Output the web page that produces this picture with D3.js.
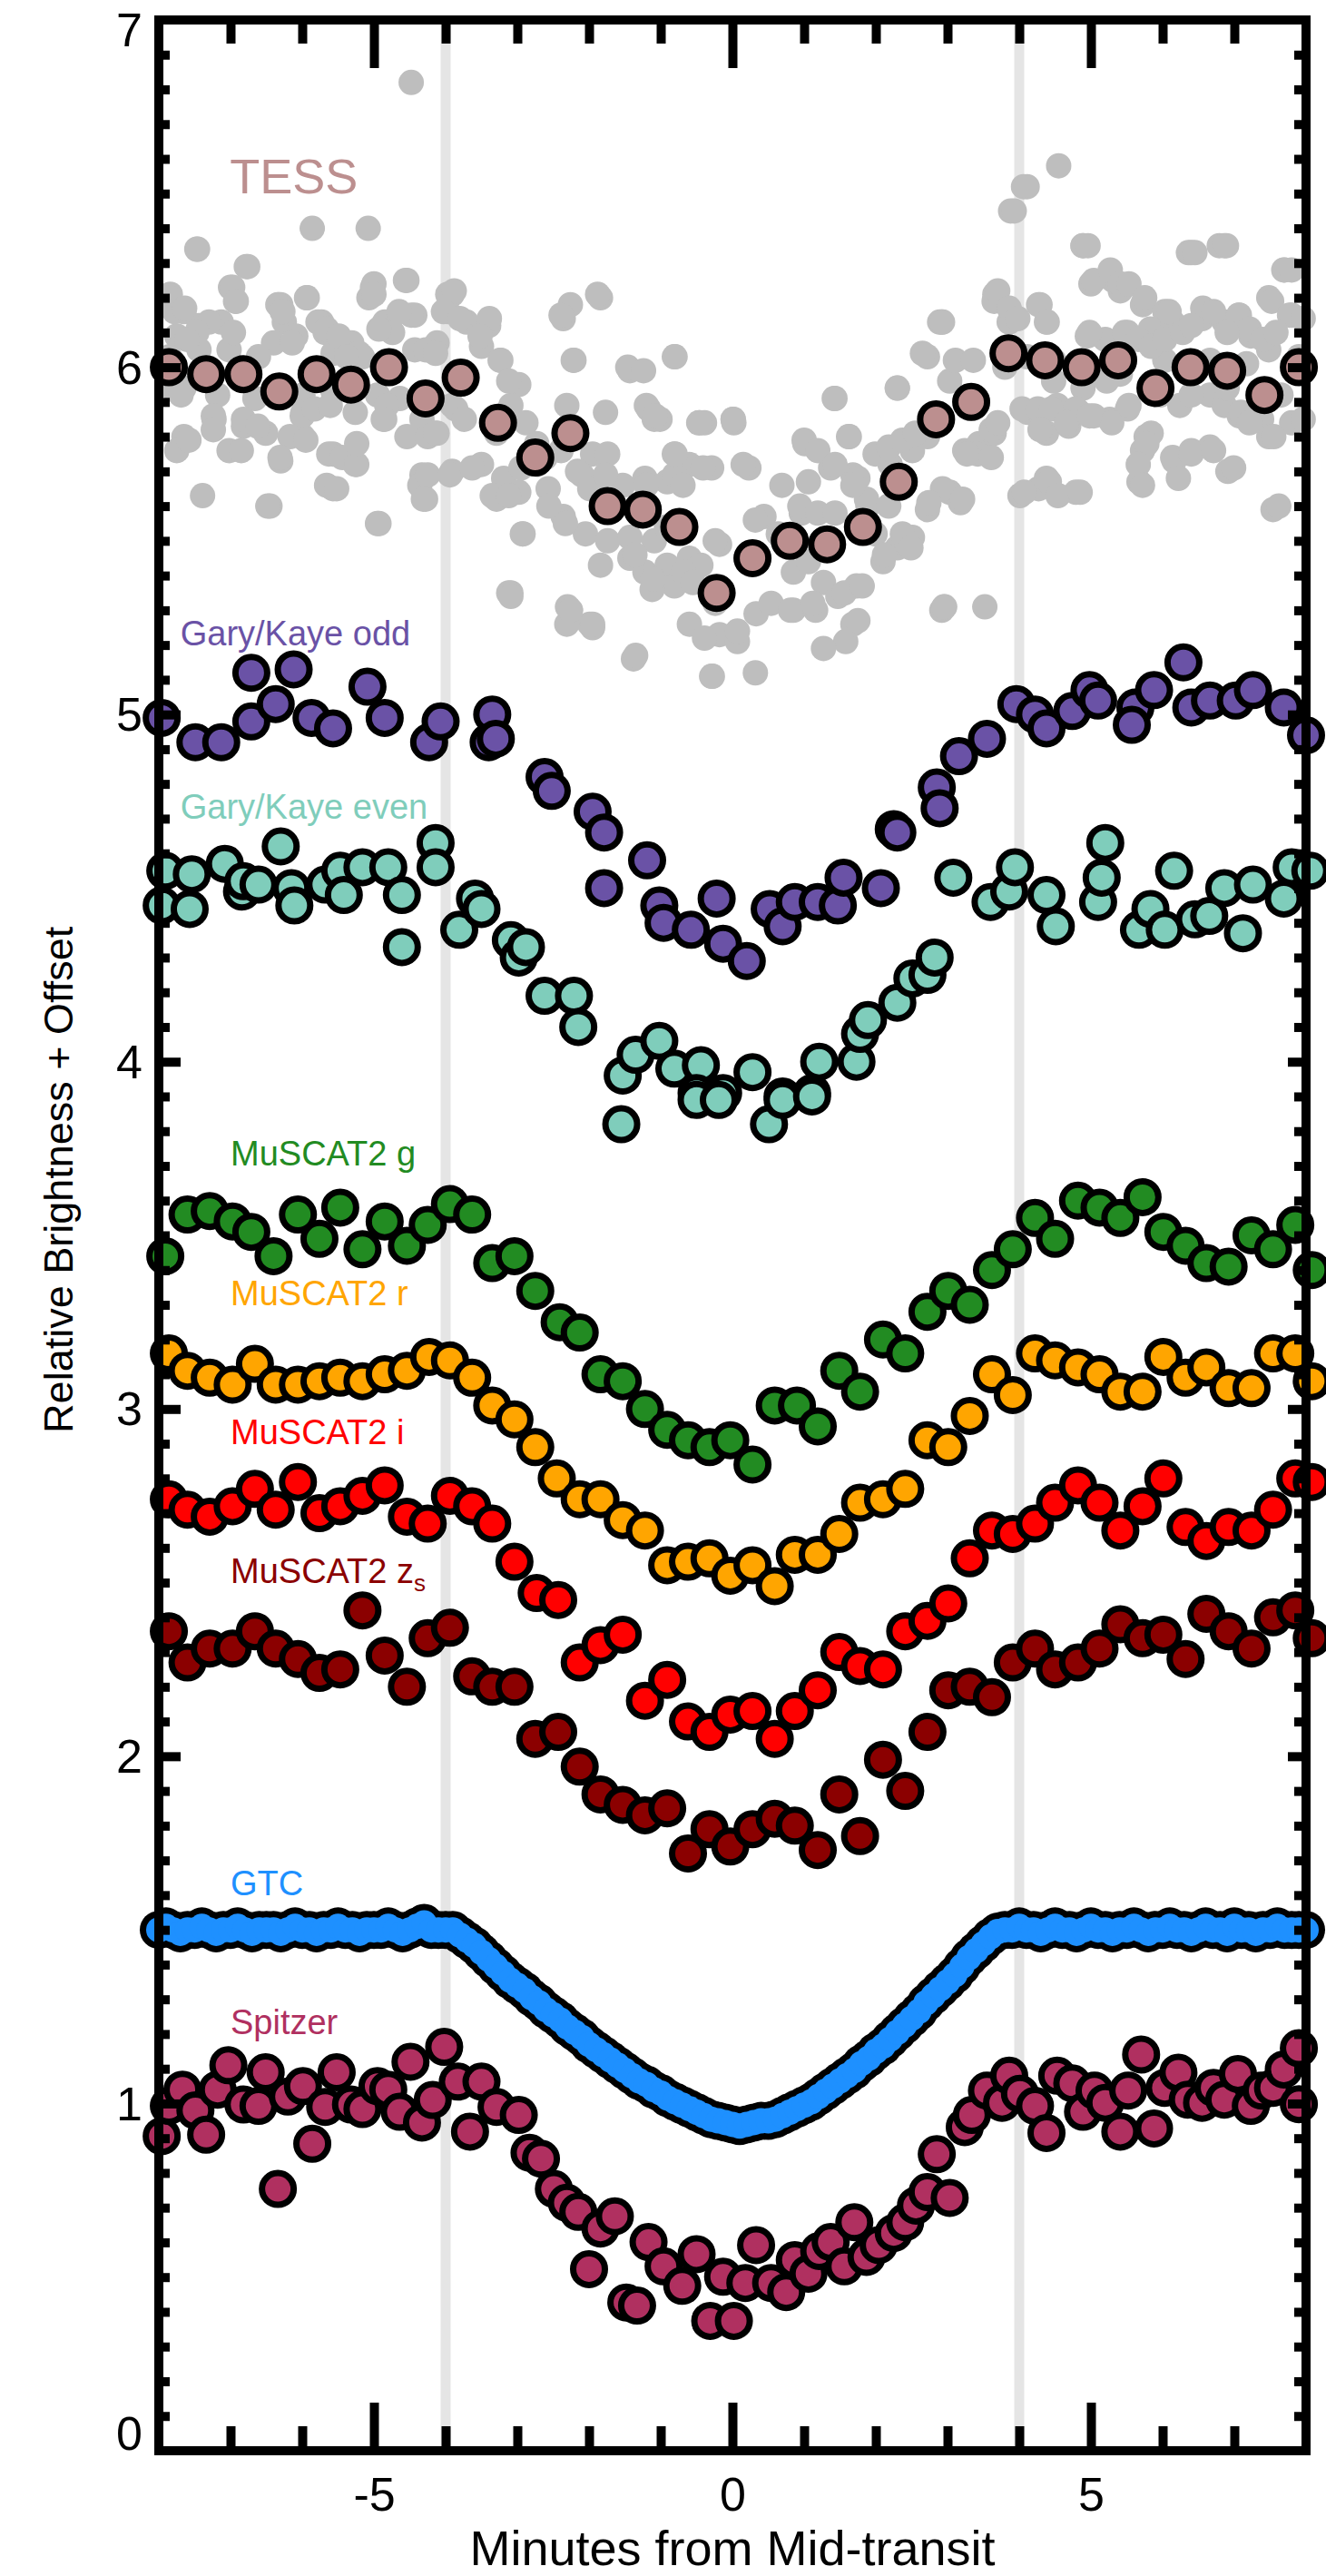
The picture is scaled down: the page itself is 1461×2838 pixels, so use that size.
<!DOCTYPE html>
<html>
<head>
<meta charset="utf-8">
<script src="https://cdn.jsdelivr.net/npm/d3@7"></script>
<style>
  body { margin: 0; background: #ffffff; }
  svg text { font-family: "Liberation Sans", Arial, Helvetica, sans-serif; }
</style>
</head>
<body>
<svg id="chart" width="1461" height="2838"></svg>
<script>
// ---- Light curves: [minutes from mid-transit, relative brightness + offset] ----

// TESS unbinned photometry (grey cloud)
const tessRaw = [
  [-4.48,6.82],[-5.86,6.40],[-5.08,6.40],[-7.47,6.34],[-6.78,6.29],[-7.00,6.23],[-6.93,6.19],[-7.84,6.21],
  [-5.93,6.20],[-5.02,6.23],[-5.07,6.20],[-4.56,6.25],[-6.33,6.18],[-6.27,6.16],
  [4.06,6.52],[3.88,6.45],[4.55,6.58],[4.89,6.35],[6.36,6.33],[6.79,6.35],[7.70,6.28],[2.89,6.13],[3.66,6.21],
  [-7.46,6.34],[-6.76,6.29],[-6.97,6.23],[-7.85,6.20],[-7.65,6.16],[-6.92,6.19],[-6.30,6.18],[-5.94,6.20],
  [-5.00,6.24],[-4.54,6.25],[-5.00,6.21],[-6.25,6.13],[-5.73,6.13],[-7.44,6.12],[-7.13,6.13],[-7.75,6.09],
  [-6.40,6.07],[-6.09,6.09],[-5.68,6.10],[-5.31,6.07],[-4.85,6.13],[-4.43,6.15],[-4.74,6.10],[-7.85,6.03],
  [-7.44,6.05],[-7.02,6.05],[-6.61,6.03],[-5.57,6.04],[-5.16,6.03],[-4.43,6.05],[-4.12,6.07],[-3.91,6.21],
  [-3.97,6.16],[-7.65,5.94],[-7.18,5.92],[-6.66,5.91],[-5.99,5.92],[-5.57,5.93],[-4.95,5.92],[-4.64,5.91],
  [-5.99,5.87],[-7.23,5.85],[-6.82,5.83],[-6.51,5.81],[-5.26,5.87],[-4.85,5.85],[-4.33,5.85],[-3.91,5.89],
  [-7.65,5.80],[-7.02,5.76],[-6.30,5.73],[-5.57,5.75],[-5.26,5.72],[-7.75,5.76],[-5.99,5.80],[-4.54,5.80],
  [-4.12,5.81],[-4.33,5.69],[-3.91,5.70],[-7.39,5.63],[-6.45,5.60],[-5.57,5.65],[-4.95,5.55],[-4.28,5.62],
  [-3.71,6.13],[-3.40,6.12],[-3.50,6.06],[-3.24,6.02],[-2.98,5.95],[-3.09,5.89],[-2.88,5.84],[-3.29,5.81],
  [-3.50,5.72],[-3.19,5.68],[-2.98,5.64],[-3.29,5.62],[-2.93,5.52],[-3.09,5.35],[-2.72,5.72],[-2.57,5.65],
  [-2.36,5.57],[-2.31,5.89],[-2.26,6.18],[-2.36,6.14],[-1.84,6.20],[-2.21,6.02],[-1.43,5.99],[-0.81,6.03],
  [-1.17,5.88],[-1.01,5.85],[-0.39,5.84],[0.02,5.84],[-0.81,5.75],[-0.60,5.72],[-0.29,5.71],[0.23,5.71],
  [-1.95,5.75],[-1.74,5.75],[-2.10,5.69],[-1.95,5.65],[-1.53,5.66],[-1.22,5.68],[-0.91,5.67],[-2.05,5.52],
  [-1.74,5.50],[-1.43,5.45],[-1.84,5.43],[-1.22,5.41],[-0.91,5.43],[-0.60,5.45],[-0.44,5.43],[-0.81,5.37],
  [-1.12,5.36],[-0.18,5.49],[-2.26,5.30],[-1.95,5.25],[-1.38,5.16],[-0.29,5.11],[-0.60,5.26],[-0.18,5.23],
  [0.07,5.21],[-0.39,5.22],[0.33,5.29],[0.54,5.32],[0.44,5.57],[0.64,5.52],[0.96,5.58],[0.85,5.41],
  [1.06,5.44],[0.85,5.30],[1.16,5.30],[1.27,5.38],[1.47,5.34],[1.73,5.37],[1.58,5.21],[1.27,5.19],
  [1.68,5.26],[1.01,5.78],[1.63,5.80],[1.42,5.91],[1.06,5.67],[1.37,5.71],[1.68,5.69],[1.89,5.60],
  [1.99,5.52],[2.10,5.44],[2.30,5.48],[2.51,5.51],[2.20,5.72],[2.51,5.76],[2.30,5.94],[2.72,5.80],
  [2.92,6.13],[2.92,5.30],[2.72,5.59],[3.03,5.64],[3.18,5.61],[2.72,6.03],[3.03,5.96],[3.24,5.76],
  [3.44,5.78],[3.65,5.81],[3.65,6.19],[3.86,6.13],[4.01,5.63],[4.27,5.65],[4.38,5.68],[4.79,5.64],
  [4.12,5.87],[4.53,5.89],[4.84,5.87],[4.38,5.81],[4.69,5.83],[4.27,6.18],[4.38,6.13],[4.89,6.35],
  [5.00,6.24],[5.31,6.25],[5.41,6.22],[5.72,6.18],[6.03,6.16],[4.95,6.09],[5.20,6.08],[5.51,6.10],
  [5.83,6.11],[6.14,6.13],[6.40,6.33],[6.86,6.35],[6.55,6.14],[6.86,6.13],[7.07,6.15],[7.23,6.09],
  [7.69,6.28],[7.48,6.20],[7.80,6.15],[5.26,5.85],[5.51,5.88],[5.77,5.80],[5.72,5.76],[5.67,5.67],
  [6.14,5.74],[6.40,5.76],[6.66,5.77],[6.91,5.70],[6.03,6.02],[6.66,6.02],[7.17,6.01],[7.48,6.05],
  [7.90,6.03],[7.07,5.86],[7.38,5.85],[7.80,5.84],[7.48,5.80],[7.54,5.59],[4.48,6.02],[4.89,5.94],
  [6.66,5.92],[6.86,5.89],[6.24,5.89],[5.41,5.98],
  [-7.78,6.16],[-7.64,6.17],[-6.34,6.18],[-6.28,6.16],[-4.48,6.15],[-4.65,6.16],[-3.97,6.21],[-3.88,6.22],
  [-4.03,6.16],[-3.80,6.14],[-3.39,6.14],[-3.52,6.09],[-7.30,6.13],[-6.96,6.10],[-7.47,6.10],[-7.61,6.08],
  [-6.14,6.07],[-5.78,6.13],[-5.66,6.11],[-5.49,6.09],[-5.21,6.04],[-5.38,6.03],[-4.93,6.11],[-4.28,6.05],
  [-4.14,6.04],[-3.23,6.02],[-3.12,5.96],[-2.39,6.15],[-1.88,6.21],[-2.22,6.02],[-1.46,6.00],[-1.77,5.87],
  [-1.20,5.89],[-1.09,5.85],[-0.47,5.84],[0.01,5.85],[-7.81,5.94],[-7.69,5.92],[-7.24,5.86],[-7.24,5.82],
  [-6.82,5.85],[-6.62,5.83],[-6.00,5.86],[-5.83,5.88],[-5.61,5.89],[-6.17,5.80],[-5.95,5.79],[-4.82,5.89],
  [-4.87,5.85],[-4.25,5.80],[-4.14,5.81],[-3.86,5.88],[-3.74,5.85],[-7.58,5.79],[-6.85,5.76],[-6.31,5.74],
  [-5.63,5.75],[-5.44,5.74],[-5.24,5.72],[-5.24,5.78],[-4.36,5.66],[-4.25,5.69],[-3.94,5.69],[-6.48,5.60],
  [-5.66,5.66],[-5.52,5.65],[-4.93,5.55],[-4.31,5.62],[-3.63,5.71],[-3.35,5.63],[-3.12,5.63],[-2.95,5.71],
  [-2.73,5.78],[-2.61,5.74],[-2.39,5.76],[-2.16,5.70],[-1.99,5.65],[-1.77,5.69],[-2.92,5.52],[-2.56,5.60],
  [-2.33,5.55],[-1.43,5.51],[-1.09,5.50],[-0.92,5.54],[-1.20,5.66],[-0.81,5.69],[-0.69,5.66],[-0.41,5.71],
  [0.15,5.72],[-3.12,5.35],[-2.30,5.31],[-1.99,5.26],
  [4.11,6.52],[3.93,6.45],[4.96,6.35],[6.45,6.33],[6.89,6.35],[7.80,6.28],[5.04,6.25],[5.27,6.28],
  [5.41,6.24],[5.53,6.24],[5.75,6.20],[6.09,6.16],[6.56,6.17],[6.71,6.16],[7.06,6.15],[7.21,6.11],
  [7.52,6.19],[7.77,6.15],[7.96,6.14],[3.70,6.22],[3.86,6.17],[3.98,6.14],[4.29,6.18],[4.39,6.13],
  [4.98,6.10],[5.47,6.10],[5.66,6.08],[5.84,6.06],[6.03,6.08],[6.28,6.10],[6.40,6.12],[6.90,6.10],
  [7.40,6.08],[7.58,6.10],[2.65,6.04],[2.93,6.13],[3.11,6.02],[3.36,6.02],[2.30,5.94],[1.43,5.91],
  [3.80,6.00],[4.11,6.03],[4.48,5.96],[4.85,6.00],[5.22,5.96],[5.97,5.92],[6.40,5.92],[6.90,5.94],
  [7.34,5.90],[7.65,5.92],[4.04,5.88],[4.26,5.88],[4.45,5.88],[4.79,5.88],[5.04,5.86],[5.29,5.84],
  [5.53,5.89],[7.09,5.87],[7.21,5.84],[7.96,5.85],[4.29,5.82],[4.66,5.84],[4.98,5.86],[5.84,5.81],
  [5.78,5.78],[5.66,5.72],[5.72,5.66],[6.16,5.73],[6.22,5.68],[6.40,5.75],[6.71,5.76],[6.99,5.71],
  [7.55,5.80],[7.62,5.60],[4.07,5.64],[4.42,5.67],[4.54,5.63],[4.85,5.64],[3.61,5.82],[3.70,5.84],
  [3.42,5.75],[3.27,5.75],[3.61,5.74],[2.93,5.65],[3.21,5.62],[2.74,5.61],[1.99,5.75],[2.18,5.77],
  [2.37,5.79],[2.55,5.81],[1.00,5.79],[1.19,5.76],[1.43,5.72],[1.62,5.80],[1.75,5.68],[1.87,5.62],
  [2.18,5.60],[-0.80,6.03],[-1.24,5.99],[-1.08,5.86],[-0.80,5.75],[-0.46,5.84],[0.01,5.85],[-0.24,5.50],
  [0.19,5.45],[0.32,5.56],[0.69,5.66],[0.94,5.60],[1.19,5.58],[1.43,5.58],[1.68,5.66],[2.37,5.52],
  [2.49,5.48],[2.12,5.46],[-0.68,5.41],[-0.55,5.38],[-0.24,5.32],[0.07,5.24],[0.81,5.30],[1.12,5.32],
  [1.56,5.35],[1.75,5.27],[1.81,5.37],[2.96,5.31],[-1.11,5.39],[-1.36,5.46],
  [0.32,5.12],[3.52,5.31],[-2.31,5.26],[-3.09,5.34],[-2.26,5.30],[-1.95,5.26],[-1.35,5.17],[-0.28,5.11],[2.95,5.31]
];

// TESS binned
const tessBinned = [
  [-7.86,6.00],[-7.34,5.98],[-6.82,5.98],[-6.32,5.93],[-5.80,5.98],[-5.32,5.95],[-4.79,6.00],[-4.28,5.91],
  [-3.79,5.97],[-3.27,5.84],[-2.75,5.74],[-2.26,5.81],[-1.74,5.60],[-1.25,5.59],[-0.74,5.54],[-0.22,5.35],
  [0.28,5.45],[0.80,5.50],[1.32,5.49],[1.82,5.54],[2.32,5.67],[2.84,5.85],[3.33,5.90],[3.85,6.04],
  [4.36,6.02],[4.87,6.00],[5.38,6.02],[5.90,5.94],[6.39,6.00],[6.90,5.99],[7.42,5.92],[7.90,6.00]
];

// Gary/Kaye odd transits
const garyOdd = [
  [-7.96,4.99],[-7.49,4.92],[-7.13,4.92],[-6.71,4.98],[-6.71,5.12],[-6.37,5.03],[-6.12,5.13],[-5.87,4.99],
  [-5.57,4.96],[-5.09,5.08],[-4.85,4.99],[-4.23,4.92],[-4.07,4.98],[-3.35,5.00],[-3.40,4.92],[-3.30,4.93],
  [-2.62,4.82],[-2.52,4.78],[-1.95,4.72],[-1.79,4.66],[-1.19,4.58],[-1.79,4.50],[-1.02,4.45],[-0.96,4.40],
  [-0.58,4.38],[-0.22,4.47],[-0.13,4.34],[0.20,4.29],[0.52,4.44],[0.70,4.39],[0.87,4.46],[1.19,4.46],
  [1.47,4.45],[1.55,4.53],[2.07,4.50],[2.25,4.67],[2.30,4.66],[2.85,4.79],[2.89,4.73],[3.16,4.88],
  [3.55,4.93],[3.96,5.03],[4.22,5.00],[4.38,4.96],[4.74,5.01],[4.98,5.07],[5.10,5.04],[5.62,5.02],
  [5.57,4.97],[5.88,5.07],[6.29,5.15],[6.40,5.02],[6.66,5.04],[7.02,5.04],[7.26,5.07],[7.69,5.02],[8.00,4.94]
];

// Gary/Kaye even transits
const garyEven = [
  [-7.96,4.45],[-7.91,4.55],[-7.54,4.54],[-7.57,4.44],[-7.08,4.57],[-6.84,4.49],[-6.82,4.52],[-6.61,4.51],
  [-6.30,4.62],[-6.15,4.50],[-6.11,4.45],[-5.68,4.51],[-5.47,4.55],[-5.42,4.48],[-5.16,4.56],[-4.80,4.56],
  [-4.61,4.48],[-4.61,4.33],[-4.14,4.63],[-4.14,4.56],[-3.81,4.38],[-3.59,4.47],[-3.50,4.44],[-3.09,4.35],
  [-2.98,4.30],[-2.88,4.33],[-2.62,4.19],[-2.21,4.19],[-2.15,4.10],[-1.53,3.96],[-1.35,4.02],[-1.02,4.06],
  [-0.81,3.98],[-0.44,3.99],[-0.50,3.91],[-0.13,3.91],[0.28,3.97],[0.70,3.90],[1.11,3.91],[1.21,4.00],
  [1.73,4.00],[1.78,4.08],[1.89,4.12],[2.30,4.17],[2.51,4.24],[2.72,4.25],[2.82,4.30],[3.08,4.53],
  [3.60,4.46],[3.86,4.49],[3.94,4.56],[4.38,4.48],[4.51,4.39],[5.10,4.46],[5.15,4.53],[5.20,4.63],
  [5.67,4.38],[5.83,4.44],[6.03,4.38],[6.16,4.55],[6.45,4.41],[6.65,4.42],[6.86,4.50],[7.12,4.37],
  [7.26,4.51],[7.69,4.47],[7.80,4.56],[8.06,4.55],
  [-1.55,3.82],[0.51,3.82],[-0.50,3.89],[-0.19,3.89],[0.70,3.89],[1.11,3.90]
];

// MuSCAT2 g band
const muscatG = [
  [-7.91,3.44],[-7.60,3.56],[-7.29,3.57],[-6.97,3.54],[-6.71,3.51],[-6.40,3.44],[-6.06,3.56],[-5.76,3.49],
  [-5.47,3.58],[-5.16,3.46],[-4.85,3.54],[-4.54,3.47],[-4.25,3.53],[-3.94,3.59],[-3.63,3.56],[-3.35,3.42],
  [-3.04,3.44],[-2.75,3.34],[-2.41,3.25],[-2.13,3.22],[-1.84,3.10],[-1.53,3.08],[-1.22,3.00],[-0.91,2.94],
  [-0.62,2.91],[-0.32,2.89],[-0.03,2.91],[0.28,2.84],[0.59,3.01],[0.90,3.01],[1.19,2.95],[1.49,3.11],
  [1.78,3.05],[2.10,3.20],[2.41,3.16],[2.72,3.28],[3.01,3.34],[3.31,3.30],[3.62,3.40],[3.91,3.46],
  [4.22,3.55],[4.50,3.49],[4.82,3.60],[5.12,3.58],[5.41,3.55],[5.72,3.61],[6.01,3.51],[6.32,3.47],
  [6.61,3.42],[6.92,3.41],[7.24,3.50],[7.54,3.46],[7.85,3.53],[8.08,3.40]
];

// MuSCAT2 r band
const muscatR = [
  [-7.86,3.16],[-7.60,3.11],[-7.29,3.09],[-6.97,3.07],[-6.66,3.13],[-6.37,3.07],[-6.06,3.07],[-5.76,3.08],
  [-5.47,3.09],[-5.16,3.08],[-4.85,3.10],[-4.54,3.11],[-4.23,3.15],[-3.94,3.14],[-3.63,3.09],[-3.35,3.01],
  [-3.04,2.97],[-2.75,2.89],[-2.45,2.80],[-2.13,2.74],[-1.84,2.74],[-1.53,2.68],[-1.22,2.65],[-0.91,2.55],
  [-0.62,2.56],[-0.32,2.57],[-0.03,2.52],[0.28,2.55],[0.59,2.49],[0.87,2.58],[1.19,2.58],[1.49,2.64],
  [1.78,2.73],[2.10,2.74],[2.41,2.77],[2.72,2.91],[3.01,2.89],[3.31,2.98],[3.62,3.10],[3.91,3.04],
  [4.22,3.16],[4.50,3.14],[4.82,3.12],[5.12,3.10],[5.41,3.05],[5.72,3.05],[6.01,3.15],[6.32,3.09],
  [6.61,3.12],[6.92,3.06],[7.24,3.06],[7.54,3.16],[7.85,3.16],[8.08,3.08]
];

// MuSCAT2 i band
const muscatI = [
  [-7.86,2.74],[-7.60,2.71],[-7.29,2.69],[-6.97,2.72],[-6.66,2.77],[-6.37,2.71],[-6.06,2.79],[-5.76,2.70],
  [-5.47,2.72],[-5.16,2.75],[-4.85,2.78],[-4.54,2.69],[-4.25,2.67],[-3.94,2.75],[-3.63,2.72],[-3.35,2.67],
  [-3.04,2.56],[-2.73,2.47],[-2.43,2.45],[-2.13,2.27],[-1.84,2.32],[-1.53,2.35],[-1.22,2.16],[-0.91,2.22],
  [-0.62,2.10],[-0.32,2.07],[-0.03,2.12],[0.28,2.13],[0.59,2.05],[0.87,2.13],[1.19,2.19],[1.49,2.30],
  [1.78,2.26],[2.10,2.25],[2.41,2.36],[2.72,2.39],[3.01,2.44],[3.31,2.57],[3.62,2.65],[3.91,2.64],
  [4.22,2.67],[4.50,2.73],[4.82,2.78],[5.12,2.73],[5.41,2.65],[5.72,2.72],[6.01,2.80],[6.32,2.66],
  [6.61,2.62],[6.92,2.66],[7.24,2.65],[7.54,2.71],[7.85,2.80],[8.08,2.79]
];

// MuSCAT2 z_s band
const muscatZ = [
  [-7.86,2.36],[-7.60,2.27],[-7.29,2.31],[-6.97,2.31],[-6.66,2.36],[-6.37,2.31],[-6.06,2.28],[-5.76,2.24],
  [-5.47,2.25],[-5.16,2.42],[-4.85,2.29],[-4.54,2.20],[-4.25,2.34],[-3.94,2.37],[-3.63,2.23],[-3.35,2.20],
  [-3.04,2.20],[-2.75,2.05],[-2.43,2.07],[-2.13,1.97],[-1.84,1.89],[-1.53,1.86],[-1.22,1.83],[-0.91,1.85],
  [-0.62,1.72],[-0.32,1.79],[-0.03,1.74],[0.28,1.79],[0.59,1.82],[0.87,1.80],[1.19,1.73],[1.49,1.89],
  [1.78,1.77],[2.10,1.99],[2.41,1.90],[2.72,2.07],[3.01,2.19],[3.31,2.20],[3.62,2.17],[3.91,2.27],
  [4.22,2.31],[4.50,2.25],[4.82,2.27],[5.12,2.31],[5.41,2.38],[5.72,2.34],[6.01,2.35],[6.32,2.28],
  [6.61,2.41],[6.92,2.36],[7.24,2.31],[7.54,2.40],[7.85,2.42],[8.08,2.34]
];

// GTC: sample times (min) and brightness, 0.1 min cadence
const gtcTime = d3.range(0, 161).map(i => -8 + i * 0.1);
const gtcFlux = [
  1.50,1.51,1.50,1.49,1.50,1.50,1.51,1.50,1.49,1.50, 1.50,1.51,1.50,1.49,1.50,1.50,1.50,1.49,1.50,1.51,
  1.50,1.50,1.49,1.50,1.50,1.51,1.50,1.50,1.49,1.50, 1.50,1.50,1.51,1.50,1.49,1.50,1.51,1.52,1.50,1.50,
  1.50,1.50,1.485,1.47,1.455,1.435,1.415,1.395,1.375,1.355, 1.34,1.325,1.305,1.29,1.27,1.255,1.24,1.22,1.205,1.19,
  1.17,1.155,1.14,1.125,1.11,1.095,1.08,1.065,1.055,1.04, 1.03,1.015,1.005,0.995,0.985,0.975,0.965,0.955,0.95,0.945,
  0.94,0.935,0.94,0.945,0.95,0.95,0.955,0.965,0.975,0.985, 0.995,1.005,1.02,1.035,1.05,1.065,1.08,1.095,1.115,1.13,
  1.15,1.165,1.185,1.205,1.225,1.245,1.265,1.29,1.31,1.33, 1.35,1.37,1.395,1.42,1.44,1.46,1.48,1.495,1.50,1.50,
  1.51,1.50,1.50,1.49,1.50,1.51,1.50,1.50,1.49,1.50, 1.51,1.50,1.50,1.49,1.50,1.50,1.51,1.50,1.49,1.50,
  1.50,1.51,1.50,1.50,1.49,1.50,1.51,1.50,1.50,1.49, 1.51,1.50,1.50,1.49,1.50,1.50,1.51,1.50,1.50,1.50,
  1.50
];

// Spitzer
const spitzer = [
  [-7.96,0.906],[-7.86,0.993],[-7.67,1.04],[-7.49,0.98],[-7.34,0.91],[-7.18,1.04],[-7.03,1.11],[-6.82,0.997],
  [-6.61,0.993],[-6.51,1.09],[-6.34,0.754],[-6.20,1.02],[-5.99,1.05],[-5.86,0.884],[-5.68,0.99],[-5.52,1.09],
  [-5.32,0.997],[-5.16,0.984],[-4.95,1.05],[-4.80,1.04],[-4.64,0.976],[-4.49,1.12],[-4.33,0.945],[-4.18,1.01],
  [-4.02,1.163],[-3.83,1.063],[-3.66,0.919],[-3.50,1.063],[-3.29,0.99],[-2.98,0.967],[-2.83,0.858],[-2.67,0.841],
  [-2.49,0.754],[-2.31,0.714],[-2.15,0.688],[-2.00,0.523],[-1.84,0.64],[-1.64,0.675],[-1.48,0.427],[-1.33,0.418],
  [-1.17,0.601],[-0.96,0.531],[-0.70,0.475],[-0.50,0.566],[-0.31,0.374],[0.02,0.374],[-0.13,0.501],[0.18,0.483],
  [0.33,0.592],[0.54,0.483],[0.75,0.457],[0.87,0.549],[1.06,0.51],[1.21,0.575],[1.37,0.601],[1.56,0.531],
  [1.70,0.658],[1.87,0.558],[2.04,0.592],[2.25,0.627],[2.41,0.658],[2.56,0.706],[2.72,0.745],[3.03,0.728],
  [2.85,0.854],[3.24,0.932],[3.34,0.967],[3.55,1.037],[3.76,1.002],[3.86,1.08],[4.01,1.028],[4.22,0.993],
  [4.38,0.915],[4.53,1.08],[4.74,1.058],[4.89,0.976],[5.05,1.037],[5.20,1.002],[5.41,0.919],[5.52,1.037],
  [5.70,1.141],[5.88,0.928],[6.03,1.045],[6.22,1.089],[6.35,1.011],[6.55,1.002],[6.71,1.045],[6.86,1.011],
  [7.05,1.085],[7.23,0.993],[7.38,1.037],[7.54,1.045],[7.69,1.098],[7.90,1.159],[7.90,0.998]
];

// Axis ticks
const xMajorTicks = [-5, 0, 5];
const xMinorTicks = [-7, -6, -4, -3, -2, -1, 1, 2, 3, 4, 6, 7];
const yMajorTicks = [1, 2, 3, 4, 5, 6];
const yLabelTicks = [0, 1, 2, 3, 4, 5, 6, 7];
const yMinorTicks = d3.range(1, 70).filter(i => i % 10 !== 0).map(i => i / 10);
const contactTimes = [-4, 4];

// Series styling and label anchors (label anchors in data units)
const series = [
  { name: "Gary/Kaye odd",  data: garyOdd,  color: "#6a52a6", lx: -7.7, ly: 5.2 },
  { name: "Gary/Kaye even", data: garyEven, color: "#7fcdbb", lx: -7.7, ly: 4.7 },
  { name: "MuSCAT2 g",      data: muscatG,  color: "#228b22", lx: -7.0, ly: 3.7 },
  { name: "MuSCAT2 r",      data: muscatR,  color: "#ffa500", lx: -7.0, ly: 3.3 },
  { name: "MuSCAT2 i",      data: muscatI,  color: "#ff0000", lx: -7.0, ly: 2.9 },
  { name: "MuSCAT2 z",      data: muscatZ,  color: "#8b0000", lx: -7.0, ly: 2.5, sub: "s" },
  { name: "GTC",            data: gtcTime.map((t, i) => [t, gtcFlux[i]]), color: "#1e90ff", lx: -7.0, ly: 1.6, band: true },
  { name: "Spitzer",        data: spitzer,  color: "#b03060", lx: -7.0, ly: 1.2 }
];

// ---- Layout ----
const svg = d3.select("#chart");
const x = d3.scaleLinear().domain([-8, 8]).range([175, 1439]);
const y = d3.scaleLinear().domain([0, 7]).range([2700, 22]);
const R = 17.5, SW = 7;

// contact lines at +/-4 minutes
svg.append("g").selectAll("line").data(contactTimes).join("line")
  .attr("x1", d => x(d)).attr("x2", d => x(d))
  .attr("y1", y(7)).attr("y2", y(0))
  .attr("stroke", "#e5e5e5").attr("stroke-width", 11);

// TESS unbinned
svg.append("g").selectAll("circle").data(tessRaw).join("circle")
  .attr("cx", d => x(d[0])).attr("cy", d => y(d[1])).attr("r", 14)
  .attr("fill", "#bebebe");

// TESS binned
svg.append("g").selectAll("circle").data(tessBinned).join("circle")
  .attr("cx", d => x(d[0])).attr("cy", d => y(d[1])).attr("r", R)
  .attr("fill", "#bc8f8f").attr("stroke", "#000").attr("stroke-width", SW);

svg.append("text").attr("x", x(-7.01)).attr("y", y(6.5))
  .attr("font-size", 54).attr("fill", "#bc8f8f").text("TESS");

// the other light curves
series.forEach(s => {
  if (s.band) {
    // dense cadence: outlines first, then fills, so the band reads as one ribbon
    svg.append("g").selectAll("circle").data(s.data).join("circle")
      .attr("cx", d => x(d[0])).attr("cy", d => y(d[1])).attr("r", R + SW / 2)
      .attr("fill", "#000");
    svg.append("g").selectAll("circle").data(s.data).join("circle")
      .attr("cx", d => x(d[0])).attr("cy", d => y(d[1])).attr("r", R - SW / 2)
      .attr("fill", s.color);
  } else {
    svg.append("g").selectAll("circle").data(s.data).join("circle")
      .attr("cx", d => x(d[0])).attr("cy", d => y(d[1])).attr("r", R)
      .attr("fill", s.color).attr("stroke", "#000").attr("stroke-width", SW);
  }
  const t = svg.append("text").attr("x", x(s.lx)).attr("y", y(s.ly))
    .attr("font-size", 38).attr("fill", s.color).text(s.name);
  if (s.sub) {
    t.append("tspan").attr("font-size", 26).attr("dy", 9).text(s.sub);
  }
});

// ---- Axes ----
const plain = d => String(d);
function styleAxis(g) {
  g.select(".domain").remove();
  g.selectAll(".tick line").attr("stroke", "#000").attr("stroke-width", 10);
  g.selectAll(".tick text").attr("fill", "#000")
    .attr("font-family", "'Liberation Sans', Arial, Helvetica, sans-serif").attr("font-size", 52);
}

// bottom
svg.append("g").attr("transform", `translate(0,${y(0)})`)
  .call(d3.axisBottom(x).tickValues(xMinorTicks).tickSize(-27).tickFormat("")).call(styleAxis);
svg.append("g").attr("transform", `translate(0,${y(0)})`)
  .call(d3.axisBottom(x).tickValues(xMajorTicks).tickSize(-53).tickPadding(29).tickFormat(plain))
  .call(styleAxis);
// top
svg.append("g").attr("transform", `translate(0,${y(7)})`)
  .call(d3.axisTop(x).tickValues(xMinorTicks).tickSize(-26).tickFormat("")).call(styleAxis);
svg.append("g").attr("transform", `translate(0,${y(7)})`)
  .call(d3.axisTop(x).tickValues(xMajorTicks).tickSize(-53).tickFormat("")).call(styleAxis);
// left
svg.append("g").attr("transform", `translate(${x(-8)},0)`)
  .call(d3.axisLeft(y).tickValues(yMinorTicks).tickSize(-12).tickFormat("")).call(styleAxis);
svg.append("g").attr("transform", `translate(${x(-8)},0)`)
  .call(d3.axisLeft(y).tickValues(yMajorTicks).tickSize(-24).tickFormat("")).call(styleAxis);
const yLab = svg.append("g").attr("transform", `translate(${x(-8)},0)`)
  .call(d3.axisLeft(y).tickValues(yLabelTicks).tickSize(0).tickPadding(18).tickFormat(plain))
  .call(styleAxis);
yLab.selectAll(".tick text").attr("dy", d => d === 7 ? "0.55em" : d === 0 ? "-0.02em" : "0.34em");
// right
svg.append("g").attr("transform", `translate(${x(8)},0)`)
  .call(d3.axisRight(y).tickValues(yMinorTicks).tickSize(-13).tickFormat("")).call(styleAxis);
svg.append("g").attr("transform", `translate(${x(8)},0)`)
  .call(d3.axisRight(y).tickValues(yMajorTicks).tickSize(-20).tickFormat("")).call(styleAxis);

// frame
svg.append("rect")
  .attr("x", x(-8)).attr("y", y(7))
  .attr("width", x(8) - x(-8)).attr("height", y(0) - y(7))
  .attr("fill", "none").attr("stroke", "#000").attr("stroke-width", 10);

// axis titles
svg.append("text").attr("x", x(0)).attr("y", 2826)
  .attr("text-anchor", "middle").attr("font-size", 54).attr("fill", "#000")
  .text("Minutes from Mid-transit");
svg.append("text")
  .attr("transform", `translate(80,${y(3.66)}) rotate(-90)`)
  .attr("text-anchor", "middle").attr("font-size", 45).attr("fill", "#000")
  .text("Relative Brightness + Offset");
</script>
</body>
</html>
